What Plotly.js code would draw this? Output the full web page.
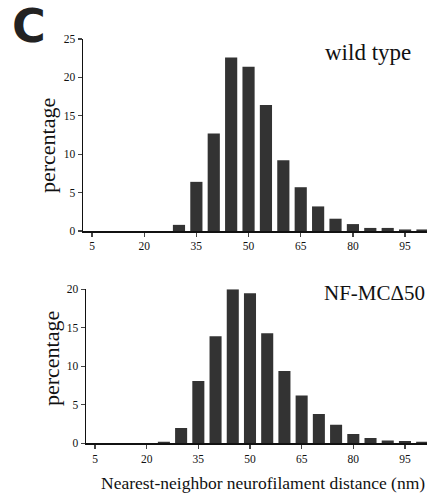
<!DOCTYPE html>
<html><head><meta charset="utf-8">
<script src="https://cdn.plot.ly/plotly-3.0.1.min.js"></script>
<style>html,body{margin:0;padding:0;overflow:hidden;background:#fff}</style>
</head><body><div id="chart"></div>
<script>
const distance = [5,10,15,20,25,30,35,40,45,50,55,60,65,70,75,80,85,90,95,100];
const wildType = [0,0,0,0,0,0.8,6.4,12.7,22.6,21.4,16.4,9.2,5.7,3.2,1.6,0.9,0.4,0.4,0.2,0.2];
const mutant   = [0,0,0,0,0.2,2.0,8.1,13.9,20.0,19.5,14.3,9.4,6.2,3.8,2.4,1.2,0.7,0.35,0.3,0.2];
const xTicks = [5,20,35,50,65,80,95];
const topTicks = [0,5,10,15,20,25];
const botTicks = [0,5,10,15,20];
const panelLabels = ["wild type","NF-MCΔ50"];

const serif = "Liberation Serif";
const barColor = "#333";

const traces = [
  {type:"bar", x: distance, y: wildType, xaxis:"x", yaxis:"y", marker:{color:barColor}, showlegend:false},
  {type:"bar", x: distance, y: mutant, xaxis:"x2", yaxis:"y2", marker:{color:barColor}, showlegend:false}
];

function axX(extra){ return Object.assign({
  range:[2.41,101.3], tickvals:xTicks, ticks:"outside", ticklen:4, tickwidth:1.2,
  showline:true, linewidth:1.5, linecolor:"#111", showgrid:false, zeroline:false,
  tickfont:{family: serif, size: 11.5, color: "#111"}
}, extra); }
function axY(extra){ return Object.assign({
  ticks:"outside", ticklen:4, tickwidth:1.2, showline:true, linewidth:1.5, linecolor:"#111",
  showgrid:false, zeroline:false, tickfont:{family: serif, size: 11.5, color: "#111"}
}, extra); }

const layout = {
  width:427, height:498,
  margin:{l:0,r:0,t:0,b:0},
  font:{family:serif, size:11, color:"#111"},
  paper_bgcolor:"#fff", plot_bgcolor:"#fff",
  bargap:0.3,
  showlegend:false,
  xaxis: axX({domain:[83/427,1], anchor:"y"}),
  yaxis: axY({domain:[1-231/498, 1-39/498], range:[0,25], tickvals:topTicks, anchor:"x"}),
  xaxis2: axX({domain:[86/427,1], range:[2.38,101.4], anchor:"y2"}),
  yaxis2: axY({domain:[1-443.3/498, 1-289.3/498], range:[0,20], tickvals:botTicks, anchor:"x2"}),
  annotations:[
    {text:"<b>C</b>", xref:"paper", yref:"paper", x:29/427, y:1-26/498, xanchor:"center", yanchor:"middle",
     showarrow:false, font:{family:"DejaVu Sans", size:46, color:"#222"}},
    {text:"percentage", xref:"paper", yref:"paper", x:47/427, y:1-146/498, textangle:-90, xanchor:"center", yanchor:"middle",
     showarrow:false, font:{family:serif, size:22, color:"#111"}},
    {text:"percentage", xref:"paper", yref:"paper", x:51/427, y:1-359/498, textangle:-90, xanchor:"center", yanchor:"middle",
     showarrow:false, font:{family:serif, size:22, color:"#111"}},
    {text:panelLabels[0], xref:"paper", yref:"paper", x:323/427, y:1-53/498, xanchor:"left", yanchor:"middle",
     showarrow:false, font:{family:serif, size:23, color:"#111"}},
    {text:panelLabels[1], xref:"paper", yref:"paper", x:1, y:1-293/498, xanchor:"right", yanchor:"middle",
     showarrow:false, font:{family:serif, size:21, color:"#111"}},
    {text:"Nearest-neighbor neurofilament distance (nm)", xref:"paper", yref:"paper", x:1, y:1-483/498, xanchor:"right", yanchor:"middle",
     showarrow:false, font:{family:serif, size:17.5, color:"#111"}}
  ]
};

Plotly.newPlot("chart", traces, layout, {displayModeBar:false, staticPlot:true});
</script></body></html>
